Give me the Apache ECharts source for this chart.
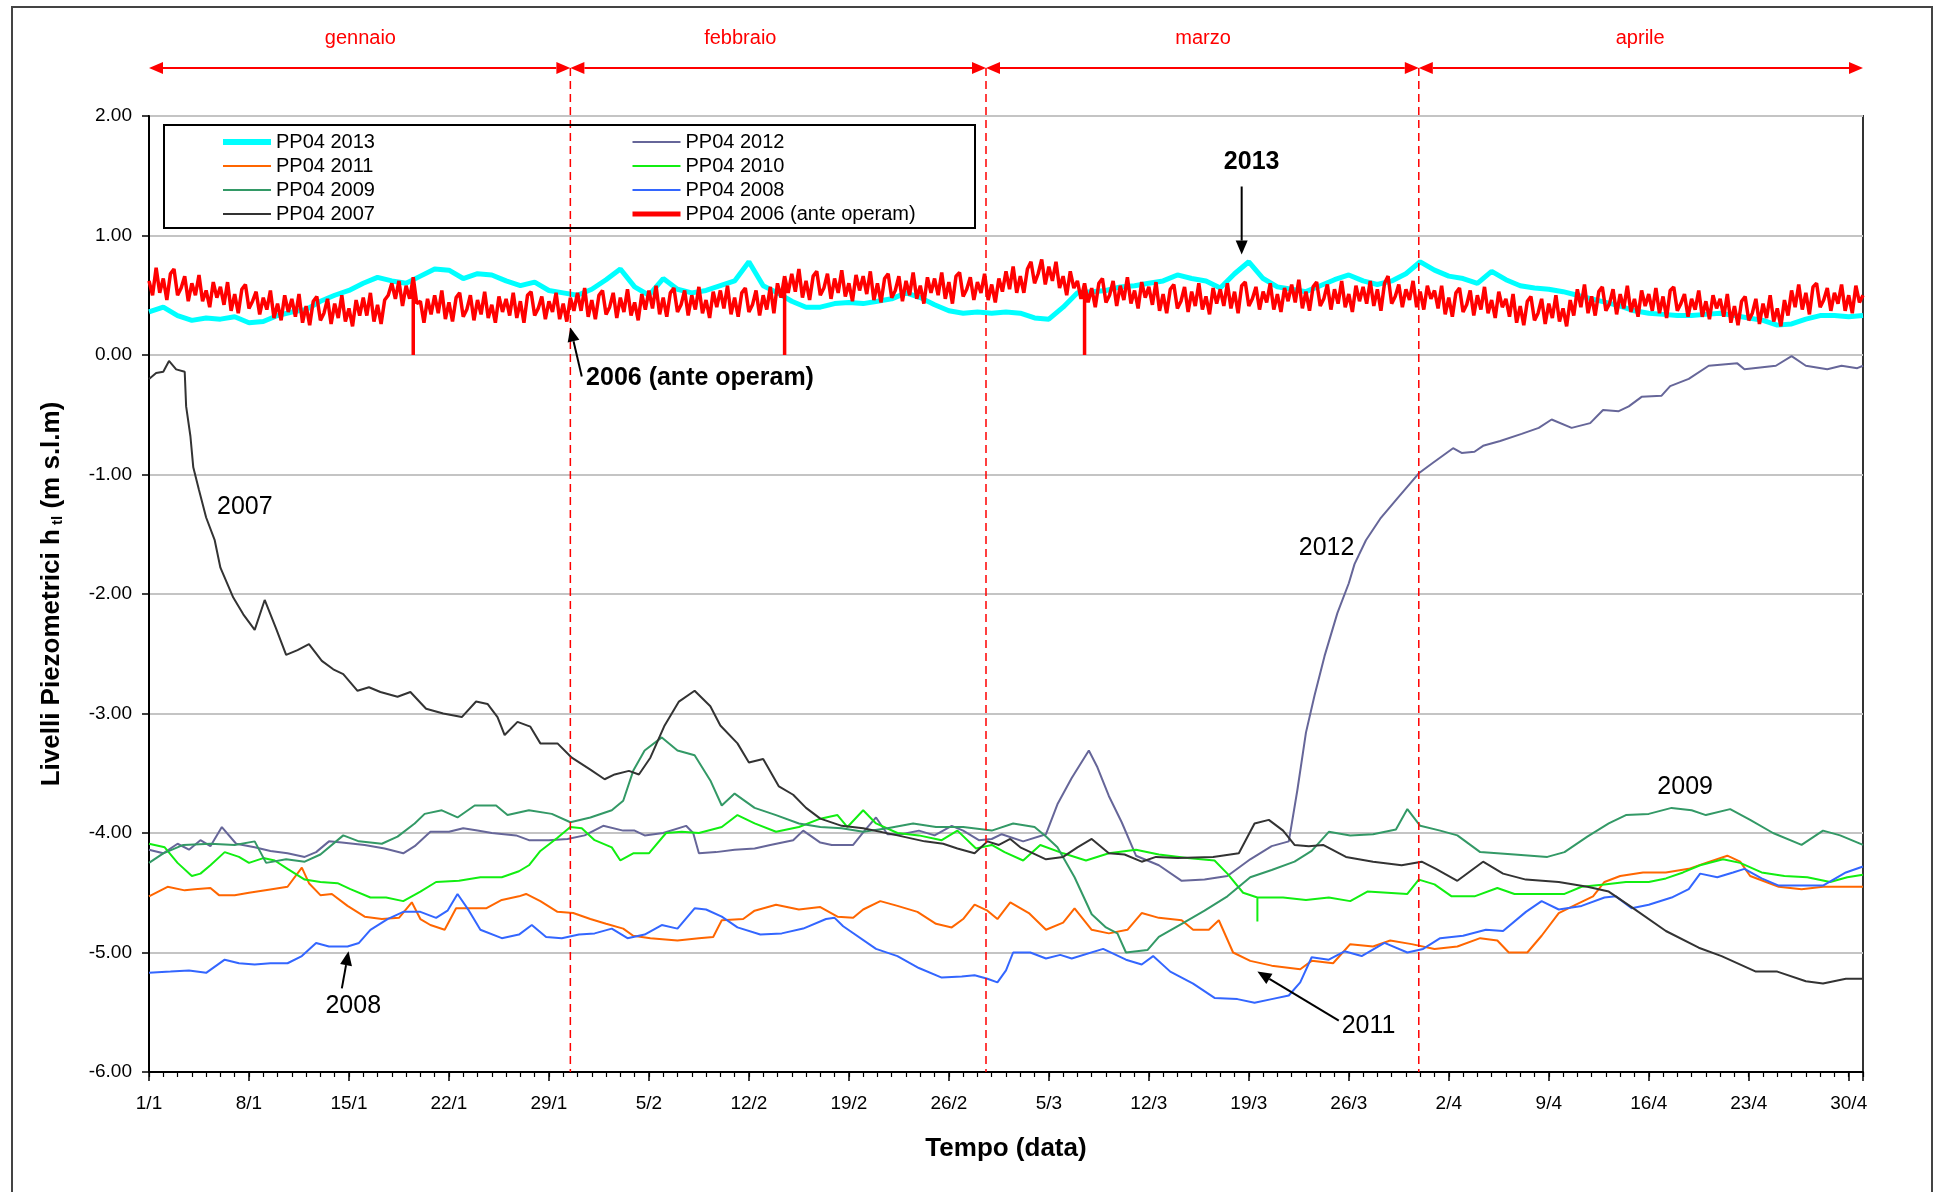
<!DOCTYPE html>
<html lang="it">
<head>
<meta charset="UTF-8">
<title>PP04 - livelli piezometrici</title>
<script src="https://cdn.jsdelivr.net/npm/echarts@6/dist/echarts.min.js"></script>
<style>html,body{margin:0;padding:0;background:#fff;}</style>
</head>
<body>
<div id="chart" style="width:1936px;height:1192px;"></div>
<script>
// asse x in giorni dal 1/1 (0 = 1 gennaio, 120 = 1 maggio)
const tickLabels = ['1/1','8/1','15/1','22/1','29/1','5/2','12/2','19/2','26/2','5/3','12/3','19/3','26/3','2/4','9/4','16/4','23/4','30/4'];
const monthNames = ['gennaio','febbraio','marzo','aprile'];
const monthLabelDay = [14.8, 41.4, 73.8, 104.4];
const monthBounds = [0, 29.5, 58.6, 88.9, 120];

// PP04 2013, un valore al giorno
const pp2013 = [
  0.36,0.40,0.33,0.29,0.31,0.30,0.32,0.27,0.28,0.33,
  0.36,0.38,0.45,0.50,0.54,0.60,0.65,0.62,0.60,0.66,
  0.72,0.71,0.64,0.68,0.67,0.62,0.58,0.61,0.54,0.52,
  0.50,0.55,0.63,0.72,0.57,0.50,0.64,0.55,0.52,0.54,
  0.58,0.62,0.78,0.58,0.52,0.45,0.40,0.40,0.43,0.44,
  0.43,0.45,0.47,0.52,0.48,0.42,0.37,0.35,0.36,0.35,
  0.36,0.35,0.31,0.30,0.40,0.52,0.53,0.54,0.57,0.58,
  0.60,0.62,0.67,0.64,0.62,0.56,0.68,0.78,0.64,0.57,
  0.55,0.53,0.58,0.63,0.67,0.62,0.59,0.62,0.68,0.78,
  0.71,0.66,0.64,0.60,0.70,0.63,0.58,0.56,0.55,0.53,
  0.50,0.47,0.44,0.41,0.37,0.35,0.34,0.33,0.33,0.34,
  0.35,0.33,0.31,0.29,0.25,0.26,0.30,0.33,0.33,0.32,
  0.33
];

// PP04 2006 (ante operam), un valore ogni 6 ore (20 valori = 5 giorni per riga)
const pp2006Step = 0.25;
const pp2006 = [
  0.62,0.50,0.73,0.52,0.64,0.46,0.68,0.72,0.50,0.56, 0.66,0.45,0.60,0.50,0.67,0.45,0.54,0.40,0.61,0.48,
  0.57,0.42,0.61,0.37,0.51,0.35,0.55,0.59,0.39,0.45, 0.53,0.34,0.48,0.38,0.54,0.31,0.43,0.29,0.50,0.36,
  0.47,0.32,0.51,0.27,0.41,0.25,0.45,0.49,0.29,0.35, 0.47,0.26,0.43,0.31,0.50,0.28,0.39,0.24,0.46,0.33,
  0.48,0.33,0.52,0.28,0.42,0.26,0.46,0.50,0.60,0.47, 0.62,0.41,0.58,0.47,0.65,0.43,0.45,0.27,0.47,0.34,
  0.50,0.35,0.54,0.30,0.44,0.28,0.48,0.52,0.32,0.38, 0.50,0.29,0.46,0.34,0.53,0.31,0.42,0.27,0.49,0.36,
  0.47,0.33,0.52,0.31,0.45,0.27,0.50,0.53,0.33,0.39, 0.49,0.30,0.45,0.36,0.52,0.30,0.43,0.28,0.48,0.37,
  0.52,0.37,0.56,0.32,0.46,0.30,0.50,0.54,0.34,0.40, 0.52,0.31,0.48,0.36,0.55,0.33,0.44,0.29,0.51,0.38,
  0.54,0.39,0.58,0.34,0.48,0.32,0.52,0.56,0.36,0.42, 0.54,0.33,0.50,0.38,0.57,0.35,0.46,0.31,0.53,0.40,
  0.54,0.39,0.58,0.34,0.48,0.32,0.52,0.56,0.36,0.42, 0.54,0.33,0.50,0.38,0.57,0.35,0.60,0.48,0.66,0.52,
  0.68,0.53,0.72,0.48,0.62,0.46,0.66,0.70,0.50,0.56, 0.68,0.47,0.64,0.52,0.71,0.49,0.60,0.45,0.67,0.54,
  0.66,0.51,0.70,0.46,0.60,0.44,0.64,0.68,0.48,0.54, 0.66,0.45,0.62,0.50,0.69,0.47,0.58,0.43,0.65,0.52,
  0.64,0.50,0.69,0.47,0.61,0.43,0.66,0.69,0.49,0.55, 0.65,0.46,0.61,0.52,0.68,0.46,0.59,0.44,0.64,0.53,
  0.70,0.55,0.74,0.52,0.66,0.52,0.72,0.78,0.60,0.68, 0.80,0.59,0.74,0.62,0.78,0.56,0.66,0.50,0.70,0.56,
  0.62,0.47,0.60,0.44,0.56,0.40,0.60,0.64,0.44,0.50, 0.62,0.41,0.58,0.46,0.65,0.43,0.54,0.39,0.61,0.48,
  0.57,0.42,0.61,0.37,0.51,0.35,0.55,0.59,0.39,0.45, 0.57,0.36,0.53,0.41,0.60,0.38,0.49,0.34,0.56,0.43,
  0.55,0.41,0.60,0.39,0.53,0.35,0.58,0.61,0.41,0.47, 0.57,0.38,0.53,0.44,0.60,0.38,0.51,0.36,0.56,0.45,
  0.59,0.44,0.63,0.39,0.53,0.37,0.57,0.61,0.41,0.47, 0.59,0.38,0.55,0.43,0.62,0.40,0.51,0.36,0.58,0.45,
  0.57,0.43,0.62,0.41,0.55,0.37,0.60,0.66,0.43,0.49, 0.59,0.40,0.55,0.46,0.62,0.40,0.53,0.38,0.58,0.47,
  0.54,0.39,0.58,0.34,0.48,0.32,0.52,0.56,0.36,0.42, 0.54,0.33,0.50,0.38,0.57,0.35,0.46,0.31,0.53,0.40,
  0.47,0.32,0.51,0.27,0.41,0.25,0.45,0.49,0.29,0.35, 0.47,0.26,0.43,0.31,0.50,0.28,0.39,0.24,0.46,0.33,
  0.55,0.40,0.59,0.35,0.49,0.33,0.53,0.57,0.37,0.43, 0.55,0.34,0.51,0.39,0.58,0.36,0.47,0.32,0.54,0.41,
  0.51,0.37,0.56,0.35,0.49,0.31,0.54,0.57,0.37,0.43, 0.51,0.32,0.47,0.38,0.54,0.32,0.45,0.30,0.50,0.39,
  0.47,0.32,0.51,0.27,0.41,0.25,0.45,0.49,0.29,0.35, 0.47,0.26,0.43,0.31,0.50,0.28,0.39,0.24,0.46,0.33,
  0.54,0.40,0.59,0.38,0.52,0.34,0.57,0.60,0.40,0.46, 0.56,0.37,0.52,0.43,0.59,0.37,0.50,0.35,0.58,0.44,
  0.50
];
// giorni in cui il 2006 scende a 0.00
const pp2006Drops = [18.5, 44.5, 65.5];

// [giorno, livello]
const pp2012 = [[0,-4.14],[1,-4.17],[2,-4.09],[2.8,-4.14],[3.6,-4.06],[4.3,-4.11],[5.1,-3.95],[6.1,-4.09],[7.4,-4.12],[8.5,-4.15],[9.7,-4.17],[10.9,-4.2],[11.7,-4.16],[12.6,-4.07],[13.5,-4.08],[15.1,-4.1],[16.5,-4.13],[17.8,-4.17],[18.6,-4.11],[19.7,-3.99],[21,-3.99],[22,-3.96],[23,-3.98],[24,-4.0],[25.7,-4.02],[26.6,-4.06],[28,-4.06],[29.3,-4.05],[30.5,-4.02],[31.8,-3.94],[33.2,-3.98],[34,-3.98],[34.7,-4.02],[36,-4.0],[37.6,-3.94],[38.1,-4.0],[38.5,-4.17],[39.7,-4.16],[41,-4.14],[42.4,-4.13],[43.5,-4.1],[45.1,-4.06],[45.8,-3.98],[47,-4.08],[47.8,-4.1],[49.3,-4.1],[50.1,-3.98],[50.9,-3.87],[51.7,-4.01],[52.7,-4.01],[53.9,-3.98],[55,-4.02],[56.2,-3.94],[57,-3.98],[58.1,-4.06],[59,-4.05],[59.7,-4.01],[61.2,-4.07],[62.8,-4.01],[63.6,-3.76],[64.6,-3.54],[65.8,-3.31],[66.4,-3.45],[67.2,-3.69],[68.1,-3.91],[69.1,-4.19],[70.7,-4.27],[72.3,-4.4],[73.9,-4.39],[75.5,-4.36],[77.1,-4.22],[78.6,-4.11],[79.8,-4.07],[80.4,-3.64],[81,-3.16],[81.6,-2.85],[82.3,-2.52],[83.2,-2.16],[84,-1.91],[84.4,-1.75],[85.2,-1.55],[86.2,-1.37],[87.4,-1.2],[88.9,-0.99],[89.8,-0.91],[91.3,-0.78],[91.9,-0.82],[92.8,-0.81],[93.4,-0.76],[94.6,-0.72],[96.1,-0.66],[97.3,-0.61],[98.2,-0.54],[99.6,-0.61],[100.9,-0.57],[101.8,-0.46],[102.9,-0.47],[103.6,-0.43],[104.5,-0.35],[105.9,-0.34],[106.5,-0.26],[107.8,-0.2],[109.2,-0.09],[111.2,-0.07],[111.7,-0.12],[113.9,-0.09],[115,-0.01],[116,-0.09],[117.5,-0.12],[118.5,-0.09],[119.6,-0.11],[120,-0.09]];

const pp2011 = [[0,-4.53],[1.3,-4.45],[2.5,-4.48],[3.2,-4.47],[4.3,-4.46],[4.9,-4.52],[6,-4.52],[7,-4.5],[8.6,-4.47],[9.7,-4.45],[10.7,-4.29],[11.2,-4.42],[12,-4.52],[12.8,-4.51],[13.9,-4.61],[15.1,-4.7],[16.3,-4.72],[17.5,-4.71],[18.4,-4.58],[19,-4.72],[19.7,-4.77],[20.7,-4.81],[21.5,-4.63],[22.5,-4.63],[23.6,-4.63],[24.7,-4.56],[25.9,-4.53],[26.4,-4.51],[27.4,-4.57],[28.6,-4.66],[29.7,-4.67],[30.9,-4.72],[32,-4.76],[33.2,-4.8],[33.9,-4.86],[35.1,-4.88],[37,-4.9],[38.5,-4.88],[39.5,-4.87],[40.1,-4.73],[41.6,-4.72],[42.4,-4.65],[43.9,-4.6],[45.5,-4.64],[47,-4.62],[48.2,-4.7],[49.3,-4.71],[50,-4.64],[51.2,-4.57],[52.4,-4.61],[53.8,-4.66],[55.1,-4.76],[56.2,-4.79],[57,-4.72],[57.8,-4.6],[58.7,-4.65],[59.4,-4.72],[60.3,-4.58],[61.6,-4.67],[62.8,-4.81],[64,-4.75],[64.8,-4.63],[66,-4.81],[67.2,-4.84],[68.5,-4.81],[69.5,-4.67],[70.7,-4.71],[72.3,-4.73],[73.1,-4.81],[74.2,-4.81],[74.9,-4.73],[75.9,-5.0],[77.1,-5.07],[78.6,-5.11],[80.6,-5.14],[81.4,-5.07],[82.9,-5.09],[84.1,-4.93],[85.7,-4.95],[86.9,-4.9],[88.4,-4.93],[90,-4.97],[91.6,-4.95],[93.2,-4.88],[94.4,-4.9],[95.2,-5.0],[96.5,-5.0],[97.5,-4.86],[98.7,-4.67],[99.9,-4.6],[101.1,-4.53],[101.9,-4.41],[103,-4.36],[104.6,-4.33],[106.2,-4.33],[107.8,-4.3],[109,-4.25],[110.5,-4.19],[111.4,-4.24],[112.1,-4.36],[114.1,-4.45],[115.7,-4.47],[117.2,-4.45],[118.6,-4.45],[120,-4.45]];

const pp2010 = [[0,-4.09],[1.1,-4.12],[2,-4.25],[3,-4.36],[3.6,-4.34],[4.3,-4.27],[5.3,-4.16],[6.3,-4.2],[7,-4.25],[8,-4.21],[8.8,-4.23],[9.7,-4.3],[10.9,-4.39],[12,-4.41],[13.2,-4.42],[14.1,-4.47],[15.5,-4.54],[16.6,-4.54],[17.8,-4.57],[19,-4.49],[20.1,-4.41],[21.7,-4.4],[23.2,-4.37],[24.7,-4.37],[25.9,-4.32],[26.6,-4.27],[27.4,-4.15],[28.6,-4.04],[29.5,-3.95],[30.3,-3.96],[31.2,-4.06],[32.4,-4.12],[33,-4.23],[33.9,-4.17],[35,-4.17],[36.2,-4.0],[37.3,-3.99],[38.5,-4.0],[40.1,-3.95],[41.2,-3.85],[42.4,-3.92],[43.9,-3.99],[45.5,-3.95],[47,-3.88],[48.2,-3.85],[48.9,-3.95],[50,-3.81],[50.9,-3.92],[52.4,-4.0],[53.9,-4.02],[55.5,-4.06],[56.6,-3.98],[57.9,-4.13],[59,-4.1],[59.9,-4.16],[61.2,-4.23],[62.4,-4.1],[64,-4.17],[65.6,-4.23],[67.2,-4.17],[69.1,-4.14],[70.7,-4.18],[72.7,-4.21],[74.6,-4.23],[75.5,-4.34],[76.6,-4.5],[77.6,-4.54],[77.6,-4.74],[77.6,-4.54],[79.4,-4.54],[81,-4.56],[82.6,-4.54],[84.1,-4.57],[85.3,-4.49],[86.7,-4.5],[88.1,-4.51],[88.9,-4.39],[90,-4.43],[91.2,-4.53],[92.8,-4.53],[94.4,-4.46],[95.6,-4.51],[97.5,-4.51],[99.1,-4.51],[100.3,-4.45],[101.9,-4.43],[103.4,-4.41],[105,-4.41],[106.2,-4.38],[107.4,-4.33],[108.6,-4.27],[110.2,-4.22],[111.4,-4.25],[112.9,-4.33],[114.5,-4.36],[116.1,-4.37],[117.7,-4.41],[118.9,-4.37],[120,-4.35]];

const pp2009 = [[0,-4.25],[1,-4.17],[2.4,-4.1],[4.3,-4.09],[6,-4.1],[7.4,-4.07],[8.2,-4.25],[9.6,-4.22],[10.9,-4.24],[12,-4.18],[13.6,-4.02],[14.7,-4.07],[16.3,-4.09],[17.4,-4.03],[18.6,-3.92],[19.3,-3.84],[20.5,-3.81],[21.6,-3.87],[22.8,-3.77],[24.3,-3.77],[25.1,-3.85],[26.6,-3.81],[28.2,-3.84],[29.5,-3.91],[30.9,-3.87],[32.4,-3.81],[33.2,-3.73],[33.9,-3.48],[34.7,-3.31],[35.9,-3.2],[37,-3.31],[38.2,-3.35],[39.3,-3.56],[40.1,-3.77],[41,-3.67],[42.4,-3.79],[43.9,-3.85],[45.5,-3.92],[47,-3.95],[48.5,-3.96],[50,-3.99],[51.7,-3.96],[53.5,-3.92],[55.1,-3.95],[57,-3.95],[59,-3.98],[60.5,-3.92],[62,-3.95],[62.8,-4.03],[63.6,-4.12],[64.8,-4.37],[66,-4.68],[67,-4.79],[67.8,-4.84],[68.4,-5.0],[69.9,-4.98],[70.7,-4.87],[72.3,-4.76],[73.9,-4.65],[75.5,-4.53],[77.1,-4.37],[78.6,-4.31],[80.2,-4.24],[81.4,-4.15],[82.6,-3.99],[84.1,-4.02],[85.7,-4.01],[87.3,-3.97],[88.1,-3.8],[89,-3.94],[90.4,-3.98],[91.6,-4.02],[93.2,-4.16],[95.6,-4.18],[97.9,-4.2],[99.1,-4.16],[100.7,-4.03],[102.2,-3.92],[103.4,-3.85],[105,-3.84],[106.6,-3.79],[108,-3.81],[109,-3.85],[110.7,-3.8],[112.1,-3.89],[113.7,-4.0],[115.7,-4.1],[117.2,-3.98],[118.4,-4.02],[120,-4.1]];

const pp2008 = [[0,-5.17],[1.5,-5.16],[2.8,-5.15],[4,-5.17],[5.3,-5.06],[6.3,-5.09],[7.4,-5.1],[8.5,-5.09],[9.7,-5.09],[10.7,-5.03],[11.7,-4.92],[12.6,-4.95],[13.9,-4.95],[14.7,-4.92],[15.5,-4.81],[16.7,-4.72],[17.8,-4.66],[19,-4.66],[20.1,-4.71],[20.9,-4.65],[21.6,-4.51],[22.4,-4.65],[23.2,-4.81],[24.7,-4.88],[25.9,-4.85],[26.8,-4.77],[27.8,-4.87],[28.9,-4.88],[30.1,-4.85],[31.2,-4.84],[32.4,-4.8],[33.5,-4.88],[34.7,-4.85],[35.9,-4.77],[37,-4.8],[38.2,-4.63],[39,-4.64],[40.1,-4.7],[41.2,-4.79],[42.8,-4.85],[44.3,-4.84],[45.8,-4.8],[47.4,-4.72],[48,-4.71],[48.6,-4.78],[50.9,-4.97],[52.4,-5.03],[53.9,-5.13],[55.5,-5.21],[56.9,-5.2],[57.8,-5.19],[58.7,-5.22],[59.4,-5.25],[60,-5.15],[60.5,-5.0],[61.7,-5.0],[62.8,-5.05],[63.8,-5.02],[64.6,-5.05],[66.8,-4.97],[68.4,-5.06],[69.5,-5.1],[70.3,-5.03],[71.5,-5.16],[73.1,-5.26],[74.6,-5.38],[76.2,-5.39],[77.4,-5.42],[78.6,-5.39],[79.8,-5.36],[80.6,-5.25],[81.4,-5.04],[82.6,-5.06],[83.7,-4.99],[84.9,-5.03],[86.5,-4.92],[88.1,-5.0],[89.2,-4.97],[90.4,-4.88],[92,-4.86],[93.6,-4.81],[94.8,-4.82],[96.4,-4.66],[97.5,-4.57],[98.7,-4.64],[100.3,-4.61],[101.9,-4.54],[102.7,-4.53],[103.8,-4.63],[105,-4.6],[106.6,-4.54],[107.8,-4.47],[108.6,-4.34],[109.8,-4.37],[110.9,-4.33],[111.7,-4.3],[112.9,-4.38],[114.1,-4.44],[115.7,-4.44],[117.2,-4.44],[118.8,-4.33],[120,-4.28]];

const pp2007 = [[0,-0.2],[0.5,-0.15],[1,-0.14],[1.4,-0.05],[1.9,-0.12],[2.5,-0.14],[2.6,-0.43],[2.9,-0.68],[3.1,-0.94],[3.5,-1.13],[4,-1.36],[4.6,-1.55],[5,-1.78],[5.9,-2.03],[6.6,-2.17],[7.4,-2.3],[8.1,-2.05],[8.9,-2.29],[9.6,-2.51],[10.4,-2.47],[11.2,-2.42],[12.1,-2.56],[12.9,-2.63],[13.6,-2.67],[14.6,-2.81],[15.4,-2.78],[16.2,-2.82],[17.4,-2.86],[18.3,-2.82],[19.4,-2.96],[20.6,-3.0],[21.9,-3.03],[22.9,-2.9],[23.7,-2.92],[24.4,-3.03],[24.9,-3.18],[25.8,-3.07],[26.7,-3.11],[27.4,-3.25],[28.6,-3.25],[29.6,-3.37],[30.9,-3.47],[31.9,-3.55],[32.6,-3.51],[33.6,-3.48],[34.3,-3.51],[35.1,-3.37],[36.1,-3.1],[37.1,-2.9],[38.2,-2.81],[39.3,-2.94],[40,-3.1],[41.2,-3.25],[42,-3.41],[43,-3.38],[44.1,-3.61],[45.1,-3.68],[46,-3.79],[47,-3.88],[48.5,-3.94],[50,-3.96],[52.4,-4.02],[54.3,-4.07],[55.6,-4.09],[56.6,-4.13],[57.8,-4.17],[58.7,-4.07],[59.5,-4.1],[60.3,-4.05],[61,-4.12],[62.8,-4.22],[64,-4.2],[65,-4.12],[66,-4.05],[67.2,-4.17],[68.3,-4.18],[69.5,-4.24],[70.5,-4.2],[72,-4.21],[74.5,-4.2],[76.3,-4.17],[77.4,-3.92],[78.4,-3.89],[79.4,-3.98],[80.2,-4.1],[81.2,-4.11],[82.2,-4.1],[83.8,-4.2],[85.7,-4.24],[87.7,-4.27],[89.1,-4.24],[90.1,-4.3],[91.6,-4.4],[93.4,-4.24],[94.8,-4.34],[96.4,-4.39],[98.7,-4.41],[100.7,-4.45],[102.2,-4.49],[103.8,-4.62],[106.2,-4.82],[108.5,-4.96],[110.1,-5.03],[112.5,-5.16],[114,-5.16],[116,-5.24],[117.2,-5.26],[118.8,-5.22],[120,-5.22]];

// etichette sul grafico [giorno, livello]
const notes = [
  {text: '2007', at: [4.76, -1.27], align: 'left', bold: false},
  {text: '2012', at: [80.5, -1.62], align: 'left', bold: false},
  {text: '2009', at: [105.6, -3.62], align: 'left', bold: false},
  {text: '2008', at: [14.3, -5.45], align: 'center', bold: false},
  {text: '2011', at: [83.5, -5.62], align: 'left', bold: false},
  {text: '2013', at: [77.2, 1.61], align: 'center', bold: true},
  {text: '2006 (ante operam)', at: [30.6, -0.19], align: 'left', bold: true}
];
const pointers = [
  [[13.5, -5.30], [13.97, -4.99]],
  [[83.3, -5.57], [77.6, -5.16]],
  [[76.5, 1.41], [76.5, 0.84]],
  [[30.3, -0.18], [29.5, 0.23]]
];

const FONT = 'Liberation Sans, Arial, sans-serif';

function daily(vals) {
  return vals.map((v, i) => [i, v]);
}
function stepped(vals, step, drops) {
  const out = [];
  vals.forEach((v, i) => {
    const d = i * step;
    out.push([d, v]);
    if (drops.includes(d)) { out.push([d, 0]); out.push([d, v]); }
  });
  return out;
}
function line(name, data, color, width) {
  return {
    name: name, type: 'line', data: data, symbol: 'none',
    lineStyle: {color: color, width: width}, itemStyle: {color: color},
    emphasis: {disabled: true}, animation: false
  };
}

const chart = echarts.init(document.getElementById('chart'));

const legendBase = {
  orient: 'vertical', top: 132, padding: 0, itemGap: 4,
  itemWidth: 48, itemHeight: 14, selectedMode: false,
  itemStyle: {opacity: 0},
  lineStyle: {width: 2},
  textStyle: {fontSize: 20, color: '#000', fontFamily: FONT, lineHeight: 18}
};

chart.setOption({
  backgroundColor: '#fff',
  animation: false,
  grid: {left: 149, right: 73, top: 116, bottom: 120, show: true, borderColor: '#333', borderWidth: 2, backgroundColor: 'transparent'},
  legend: [
    Object.assign({left: 220, data: [
      {name: 'PP04 2013', lineStyle: {width: 6}}, 'PP04 2011', 'PP04 2009', 'PP04 2007'
    ]}, legendBase),
    Object.assign({left: 630, data: [
      'PP04 2012', 'PP04 2010', 'PP04 2008', {name: 'PP04 2006 (ante operam)', lineStyle: {width: 5}}
    ]}, legendBase)
  ],
  xAxis: [{
    type: 'value', position: 'bottom', min: 0, max: 120, interval: 7,
    name: 'Tempo (data)', nameLocation: 'middle', nameGap: 64,
    nameTextStyle: {fontSize: 26, fontWeight: 'bold', color: '#000', fontFamily: FONT},
    axisLine: {onZero: false, lineStyle: {color: '#000', width: 2}},
    axisTick: {length: 9, lineStyle: {color: '#000', width: 1.5}},
    axisLabel: {
      margin: 22, fontSize: 19, color: '#000', fontFamily: FONT,
      formatter: v => (v % 7 === 0 && tickLabels[v / 7]) ? tickLabels[v / 7] : ''
    },
    splitLine: {show: false}
  }, {
    type: 'value', position: 'bottom', min: 0, max: 120, interval: 1,
    axisLine: {show: false, onZero: false},
    axisTick: {length: 5, lineStyle: {color: '#000', width: 1.2}},
    axisLabel: {show: false},
    splitLine: {show: false}
  }],
  yAxis: {
    type: 'value', min: -6, max: 2, interval: 1,
    name: '{b|Livelli Piezometrici h}{s| tl}{b| (m s.l.m)}',
    nameLocation: 'middle', nameGap: 84, nameRotate: 90,
    nameTextStyle: {
      color: '#000', fontFamily: FONT,
      rich: {
        b: {fontSize: 26, fontWeight: 'bold', fontFamily: FONT, color: '#000', verticalAlign: 'bottom'},
        s: {fontSize: 15, fontWeight: 'bold', fontFamily: FONT, color: '#000', verticalAlign: 'bottom'}
      }
    },
    axisLine: {show: true, lineStyle: {color: '#000', width: 2}},
    axisTick: {show: true, length: 7, lineStyle: {color: '#000', width: 1.5}},
    axisLabel: {margin: 17, fontSize: 19, color: '#000', fontFamily: FONT, formatter: v => v.toFixed(2)},
    splitLine: {lineStyle: {color: '#C4C4C4', width: 2}}
  },
  series: [
    line('PP04 2013', daily(pp2013), '#00FFFF', 5),
    line('PP04 2012', pp2012, '#666699', 2),
    line('PP04 2011', pp2011, '#FF6600', 2),
    line('PP04 2010', pp2010, '#11EE11', 2),
    line('PP04 2009', pp2009, '#339966', 2),
    line('PP04 2008', pp2008, '#3366FF', 2),
    line('PP04 2007', pp2007, '#333333', 2),
    line('PP04 2006 (ante operam)', stepped(pp2006, pp2006Step, pp2006Drops), '#FF0000', 3.5)
  ]
});

// annotazioni: mesi, frecce, etichette
const at = p => chart.convertToPixel({gridIndex: 0}, p);
const xOf = d => chart.convertToPixel({xAxisIndex: 0}, d);
const yBottom = chart.convertToPixel({yAxisIndex: 0}, -6);
const arrowY = 68;

function head(x1, y1, x2, y2, color, len, half) {
  const a = Math.atan2(y2 - y1, x2 - x1);
  const bx = x2 - len * Math.cos(a), by = y2 - len * Math.sin(a);
  const nx = -Math.sin(a) * half, ny = Math.cos(a) * half;
  return {
    base: [bx, by],
    el: {type: 'polygon', z: 100, shape: {points: [[x2, y2], [bx + nx, by + ny], [bx - nx, by - ny]]}, style: {fill: color}}
  };
}

const g = [];
g.push({type: 'rect', z: 1, shape: {x: 12, y: 7, width: 1920, height: 1300}, style: {fill: 'none', stroke: '#444', lineWidth: 2}});
g.push({type: 'rect', z: 100, shape: {x: 164, y: 125, width: 811, height: 103}, style: {fill: 'none', stroke: '#000', lineWidth: 2}});

for (let i = 0; i < monthNames.length; i++) {
  const xa = xOf(monthBounds[i]), xb = xOf(monthBounds[i + 1]);
  const h1 = head(xb, arrowY, xa, arrowY, '#FF0000', 14, 6);
  const h2 = head(xa, arrowY, xb, arrowY, '#FF0000', 14, 6);
  g.push({type: 'line', z: 100, shape: {x1: h1.base[0], y1: arrowY, x2: h2.base[0], y2: arrowY}, style: {stroke: '#FF0000', lineWidth: 2}});
  g.push(h1.el, h2.el);
  g.push({type: 'text', z: 100, x: xOf(monthLabelDay[i]), y: 38,
    style: {text: monthNames[i], fontSize: 20, fontFamily: FONT, fill: '#FF0000', align: 'center', verticalAlign: 'middle'}});
}
for (let i = 1; i < monthBounds.length - 1; i++) {
  const x = xOf(monthBounds[i]);
  g.push({type: 'line', z: 50, shape: {x1: x, y1: arrowY, x2: x, y2: yBottom}, style: {stroke: '#FF0000', lineWidth: 1.5, lineDash: [8, 5]}});
}
notes.forEach(n => {
  const p = at(n.at);
  g.push({type: 'text', z: 100, x: p[0], y: p[1],
    style: {text: n.text, fontSize: 25, fontWeight: n.bold ? 'bold' : 'normal', fontFamily: FONT, fill: '#000', align: n.align, verticalAlign: 'middle'}});
});
pointers.forEach(pr => {
  const a = at(pr[0]), b = at(pr[1]);
  const h = head(a[0], a[1], b[0], b[1], '#000', 14, 6);
  g.push({type: 'line', z: 100, shape: {x1: a[0], y1: a[1], x2: h.base[0], y2: h.base[1]}, style: {stroke: '#000', lineWidth: 2}});
  g.push(h.el);
});

chart.setOption({graphic: g});
</script>
</body>
</html>
